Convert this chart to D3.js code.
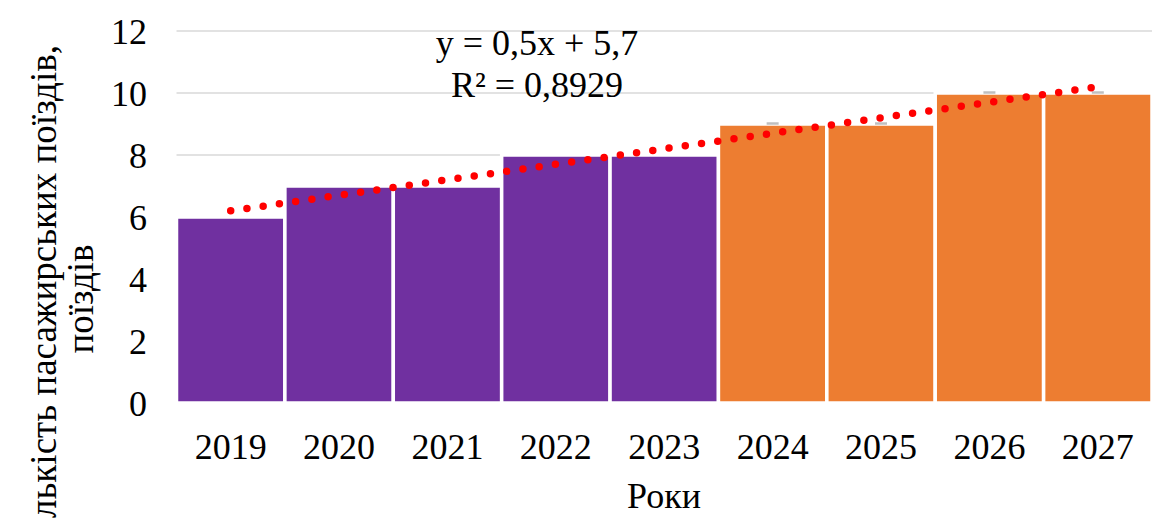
<!DOCTYPE html>
<html><head><meta charset="utf-8">
<script src="https://cdn.jsdelivr.net/npm/d3@7"></script>
<style>
body{margin:0;background:#fff;}
text{font-family:"Liberation Serif","Times New Roman",serif;fill:#000;}
</style></head>
<body><svg id="c" width="1153" height="518"></svg>
<script>
const years = ["2019","2020","2021","2022","2023","2024","2025","2026","2027"];
const values = [6,7,7,8,8,9,9,10,10];
const forecast = [false,false,false,false,false,true,true,true,true];
const yTicks = [0,2,4,6,8,10,12];
const trendSlope = 0.5, trendIntercept = 5.7;
const eqLines = ["y = 0,5x + 5,7","R² = 0,8929"];
const yTitle = ["Кількість пасажирських поїздів,","поїздів"];
const xTitle = "Роки";

const svg = d3.select("#c");
const x = d3.scaleBand().domain(years).range([176.5,1152]).padding(0);
const y = d3.scaleLinear().domain([0,12]).range([403,31]);

// gridlines
svg.append("g").selectAll("line").data(yTicks).join("line")
  .attr("x1",176.5).attr("x2",1152)
  .attr("y1",d=>y(d)).attr("y2",d=>y(d))
  .attr("stroke","#d9d9d9").attr("stroke-width",1.5);

// bars
svg.append("g").selectAll("rect").data(years).join("rect")
  .attr("x",d=>x(d)).attr("width",x.bandwidth())
  .attr("y",(d,i)=>y(values[i])).attr("height",(d,i)=>y(0)-y(values[i]))
  .attr("fill",(d,i)=>forecast[i]?"#ED7D31":"#7030A0")
  .attr("stroke","#fff").attr("stroke-width",3.5);

// small caps on forecast bars
svg.append("g").selectAll("line").data(years.filter((d,i)=>forecast[i])).join("line")
  .attr("x1",d=>x(d)+x.bandwidth()/2-6).attr("x2",d=>x(d)+x.bandwidth()/2+6)
  .attr("y1",d=>y(values[years.indexOf(d)])-0.5).attr("y2",d=>y(values[years.indexOf(d)])-0.5)
  .attr("stroke","#bfbfbf").attr("stroke-width",2.5);

// trendline
const tx = i => x(years[i])+x.bandwidth()/2;
const trend = years.map((d,i)=>[tx(i), y(trendSlope*(i+1)+trendIntercept)]);
svg.append("path").attr("d",d3.line()([trend[0],trend[trend.length-1]]))
  .attr("fill","none").attr("stroke","#ff0000").attr("stroke-width",7.5)
  .attr("stroke-linecap","round").attr("stroke-dasharray","0 16.4");

// y axis labels
svg.append("g").selectAll("text").data(yTicks).join("text")
  .attr("x",147).attr("y",d=>y(d)).attr("dy","0.35em")
  .attr("text-anchor","end").style("font-size","36px").text(d=>d);

// x axis labels
svg.append("g").selectAll("text").data(years).join("text")
  .attr("x",d=>x(d)+x.bandwidth()/2).attr("y",459)
  .attr("text-anchor","middle").style("font-size","36px").text(d=>d);

// x title
svg.append("text").attr("x",664).attr("y",508).attr("text-anchor","middle")
  .style("font-size","36px").text(xTitle);

// y title
const yt = svg.append("text").attr("transform","translate(0,299) rotate(-90)")
  .attr("text-anchor","middle").style("font-size","37px");
yt.append("tspan").attr("x",0).attr("y",56).text(yTitle[0]);
yt.append("tspan").attr("x",0).attr("y",93).text(yTitle[1]);

// equation
svg.append("g").selectAll("text").data(eqLines).join("text")
  .attr("x",537).attr("y",(d,i)=>55+i*42).attr("text-anchor","middle")
  .style("font-size","36px").text(d=>d);
</script></body></html>
